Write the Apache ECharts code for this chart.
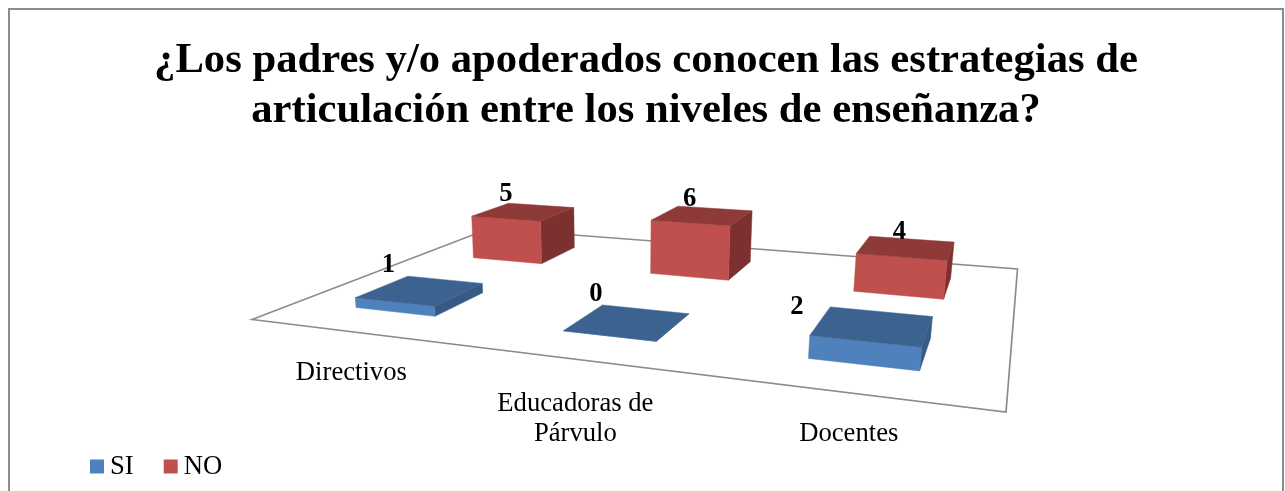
<!DOCTYPE html>
<html>
<head>
<meta charset="utf-8">
<style>html,body{margin:0;padding:0;background:#fff}#chart{width:1285px;height:491px}</style>
<script src="https://cdn.jsdelivr.net/npm/echarts@6/dist/echarts.min.js"></script>
</head>
<body>
<div id="chart"></div>
<script>
const titleText = "¿Los padres y/o apoderados conocen las estrategias de\narticulación entre los niveles de enseñanza?";
const categories = ["Directivos", "Educadoras de\nPárvulo", "Docentes"];
const seriesNames = ["SI", "NO"];
const siValues = [1, 0, 2];
const noValues = [5, 6, 4];

// Perspective layout of the 3D floor (plain scene geometry, not data)
const FLOOR = {p0:[252,319.5], p1:[1006,412], p2:[1017.5,269], p3:[489.5,228.5]};
const VANISH = [620, 3800];
const GRID = {left:252, top:100, width:754, height:61.2};
const BAR_HALF = 0.2;
const PALETTE = {
  SI:{front:"#4F81BD", top:"#3C6290", side:"#375A85"},
  NO:{front:"#C0504D", top:"#8E3A38", side:"#7C3130"}
};
const VALUE_LABEL_SHIFT = {SI:[[-32,-25],[-32,-27.5],[-76,-18.5]], NO:[[-18,-17.5],[-13,-16.5],[-7,-15.5]]};
const CATEGORY_LABEL_SHIFT = [[0,41.5],[-2,60],[0,41]];

const H = (function(){
  const {p0,p1,p2,p3} = FLOOR;
  const dx1=p1[0]-p2[0], dx2=p3[0]-p2[0], sx=p0[0]-p1[0]+p2[0]-p3[0];
  const dy1=p1[1]-p2[1], dy2=p3[1]-p2[1], sy=p0[1]-p1[1]+p2[1]-p3[1];
  const det=dx1*dy2-dx2*dy1;
  const g=(sx*dy2-dx2*sy)/det, h=(dx1*sy-sx*dy1)/det;
  return {a:p1[0]-p0[0]+g*p1[0], b:p3[0]-p0[0]+h*p3[0], c:p0[0],
          d:p1[1]-p0[1]+g*p1[1], e:p3[1]-p0[1]+h*p3[1], f:p0[1], g, h};
})();
const HW = -1/3500;
function project(u,v,hpx){
  const w=1+H.g*u+H.h*v;
  const x=(H.a*u+H.b*v+H.c)/w, y=(H.d*u+H.e*v+H.f)/w;
  const t=hpx*HW/w, k=t/(1+t);
  return [x+(VANISH[0]-x)*k, y+(VANISH[1]-y)*k];
}
function poly(points,color){
  return {type:"polygon",shape:{points},style:{fill:color,stroke:color,lineWidth:0.5}};
}
function barRender(depth,name){
  return function(params,api){
    const i=api.value(0), val=api.value(1);
    const cx=(api.coord([i,0])[0]-GRID.left)/GRID.width;
    const du=api.size([1,0])[0]/GRID.width*BAR_HALF;
    const hpx=api.size([0,val])[1];
    const u0=cx-du,u1=cx+du,v0=(depth+0.5-BAR_HALF)/2,v1=(depth+0.5+BAR_HALF)/2;
    const c=PALETTE[name];
    const bfl=project(u0,v0,0),bfr=project(u1,v0,0),bbr=project(u1,v1,0);
    const tfl=project(u0,v0,hpx),tfr=project(u1,v0,hpx),tbr=project(u1,v1,hpx),tbl=project(u0,v1,hpx);
    const mid=project(cx,(v0+v1)/2,hpx), sh=VALUE_LABEL_SHIFT[name][i];
    return {type:"group",children:[
      poly([bfr,bbr,tbr,tfr],c.side),
      poly([bfl,bfr,tfr,tfl],c.front),
      poly([tfl,tfr,tbr,tbl],c.top),
      {type:"text",style:{text:String(val),x:mid[0]+sh[0],y:mid[1]+sh[1],align:"center",verticalAlign:"middle",
        font:'bold 26.67px "Liberation Serif"',fill:"#000"}}
    ]};
  };
}
function floorRender(){
  return {type:"polygon",shape:{points:[project(0,0,0),project(1,0,0),project(1,1,0),project(0,1,0)]},
    style:{fill:"none",stroke:"#8C8C8C",lineWidth:1.7}};
}
function labelRender(params,api){
  const i=api.value(0);
  const cx=(api.coord([i,0])[0]-GRID.left)/GRID.width;
  const p=project(cx,0,0), sh=CATEGORY_LABEL_SHIFT[i];
  return {type:"text",style:{text:categories[i],x:p[0]+sh[0],y:p[1]+sh[1],align:"center",verticalAlign:"middle",
    font:'26.67px "Liberation Serif"',lineHeight:30,fill:"#000"}};
}
const chart=echarts.init(document.getElementById("chart"),null,{renderer:"canvas"});
chart.setOption({
  animation:false,
  backgroundColor:"#fff",
  title:{text:titleText,left:641,top:31,textAlign:"center",
    textStyle:{fontFamily:"Liberation Serif",fontWeight:"bold",fontSize:42.67,lineHeight:50,color:"#000"}},
  legend:{data:seriesNames,left:85,top:448,icon:"rect",itemWidth:14,itemHeight:14,itemGap:30,
    textStyle:{fontFamily:"Liberation Serif",fontSize:26.67,color:"#000",padding:[0,0,0,1]}},
  grid:{left:GRID.left,top:GRID.top,width:GRID.width,height:GRID.height},
  xAxis:{type:"category",data:categories,show:false},
  yAxis:{type:"value",min:0,max:6,interval:1,show:false},
  graphic:[{type:"rect",z:0,shape:{x:9,y:9,width:1274,height:500},style:{fill:"none",stroke:"#8C8C8C",lineWidth:2},silent:true}],
  series:[
    {type:"custom",name:"floor",z:1,silent:true,renderItem:floorRender,data:[[0,0]],encode:{x:0,y:1}},
    {type:"custom",name:"labels",z:1,silent:true,renderItem:labelRender,data:categories.map((c,i)=>[i,0]),encode:{x:0,y:1}},
    {type:"custom",name:"NO",z:3,itemStyle:{color:PALETTE.NO.front},renderItem:barRender(1,"NO"),data:noValues.map((v,i)=>[i,v]),encode:{x:0,y:1}},
    {type:"custom",name:"SI",z:4,itemStyle:{color:PALETTE.SI.front},renderItem:barRender(0,"SI"),data:siValues.map((v,i)=>[i,v]),encode:{x:0,y:1}}
  ]
});
</script>
</body>
</html>
